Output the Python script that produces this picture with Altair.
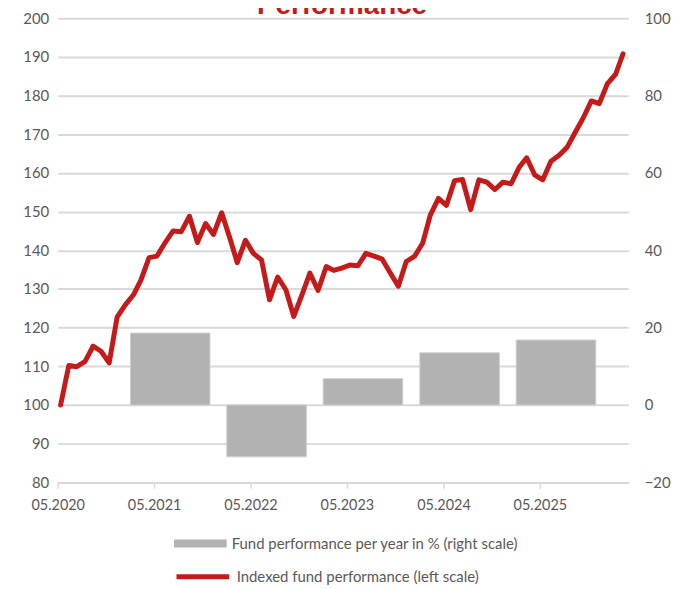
import altair as alt
import pandas as pd

# ---- data ----
TITLE = "Performance"
LINE_LABEL = "Indexed fund performance (left scale)"
BAR_LABEL = "Fund performance per year in % (right scale)"

line_start = "2020-05-01"          # first monthly observation (May 2020)
line_values = [
    100.0, 110.2, 109.9, 111.2, 115.2, 113.9, 110.9, 122.7, 125.9, 128.5,
    132.3, 138.1, 138.5, 142.0, 145.0, 144.8, 148.8, 142.0, 146.9, 144.1,
    149.7, 143.1, 136.8, 142.6, 139.2, 137.5, 127.2, 133.1, 129.8, 122.9,
    128.5, 134.1, 129.6, 135.8, 134.8, 135.4, 136.2, 136.0, 139.2, 138.5,
    137.7, 134.2, 130.7, 137.1, 138.4, 141.8, 149.1, 153.4, 151.6, 158.0,
    158.3, 150.5, 158.2, 157.6, 155.7, 157.6, 157.2, 161.5, 163.9, 159.4,
    158.2, 163.0, 164.5, 166.6, 170.5, 174.2, 178.6, 177.9, 183.1, 185.5,
    190.8,
]

bar_years = [2021, 2022, 2023, 2024, 2025]
bar_values = [18.6, -13.4, 6.8, 13.5, 16.8]

tick_years = [2020, 2021, 2022, 2023, 2024, 2025]

# ---- tables ----
line_dates = pd.date_range(line_start, periods=len(line_values), freq="MS") + pd.Timedelta(days=11)
line_df = pd.DataFrame({"date": line_dates, "value": line_values, "series": LINE_LABEL})
bar_df = pd.DataFrame({
    "date": [pd.Timestamp(year=y, month=7, day=1) for y in bar_years],
    "value": bar_values,
    "series": BAR_LABEL,
})
title_df = pd.DataFrame({"t": [TITLE]})

FONT = "Lato"
GREY_TXT = "#595959"
RED = "#c41a1a"

x_domain = [alt.DateTime(year=2020, month=5, date=1), alt.DateTime(year=2026, month=4, date=1)]
x_scale = alt.Scale(domain=x_domain, padding=0)
x_axis = alt.Axis(
    title=None,
    values=[alt.DateTime(year=y, month=5, date=1) for y in tick_years],
    format="%m.%Y",
    grid=False,
    labelFlush=False,
    labelOverlap=False,
    domainColor="#d9d9d9",
    domainWidth=2,
    tickColor="#d9d9d9",
    tickWidth=1.5,
    tickSize=6,
    labelPadding=10,
    labelFontSize=14.5,
    labelColor=GREY_TXT,
    labelFont=FONT,
)

bars = alt.Chart(bar_df).mark_bar(size=80, stroke="#cfcfcf", strokeWidth=1).encode(
    x=alt.X("date:T", scale=x_scale, axis=x_axis),
    y=alt.Y(
        "value:Q",
        scale=alt.Scale(domain=[-20, 100], nice=False, zero=False),
        axis=alt.Axis(
            orient="right", title=None, values=[-20, 0, 20, 40, 60, 80, 100],
            grid=False, domain=False, ticks=False, labelPadding=16,
            labelFontSize=15, labelColor=GREY_TXT, labelFont=FONT,
        ),
    ),
    fill=alt.Fill(
        "series:N",
        scale=alt.Scale(domain=[BAR_LABEL], range=["#b2b2b2"]),
        legend=alt.Legend(
            orient="none", legendX=117, legendY=502, title=None, padding=0,
            symbolType="M-1,-0.15H1V0.15H-1Z", symbolSize=2809, symbolStrokeWidth=0,
            labelOffset=5, labelLimit=0, labelFontSize=15, labelColor=GREY_TXT,
            labelFont=FONT,
        ),
    ),
)

line = alt.Chart(line_df).mark_line(strokeWidth=5, strokeCap="round", strokeJoin="round").encode(
    x=alt.X("date:T", scale=x_scale, axis=x_axis),
    y=alt.Y(
        "value:Q",
        scale=alt.Scale(domain=[80, 200], nice=False, zero=False),
        axis=alt.Axis(
            orient="left", title=None, values=list(range(80, 201, 10)),
            grid=True, gridColor="#d9d9d9", gridWidth=2,
            domain=False, ticks=False, labelPadding=9,
            labelFontSize=15, labelColor=GREY_TXT, labelFont=FONT,
        ),
    ),
    stroke=alt.Stroke(
        "series:N",
        scale=alt.Scale(domain=[LINE_LABEL], range=[RED]),
        legend=alt.Legend(
            orient="none", legendX=117, legendY=533, title=None, padding=0,
            symbolType="stroke", symbolSize=2809, symbolStrokeWidth=5,
            labelOffset=5, labelLimit=0, labelFontSize=15, labelColor=GREY_TXT,
            labelFont=FONT,
        ),
    ),
)

title = alt.Chart(title_df).mark_text(
    font="Liberation Sans", fontSize=28, fontWeight="bold", color=RED,
    align="center", baseline="alphabetic",
).encode(text="t:N", x=alt.value(286), y=alt.value(-4.5))

chart = (
    alt.layer(bars, line, title)
    .resolve_scale(y="independent", fill="independent", stroke="independent")
    .properties(
        width=574, height=467,
        autosize=alt.AutoSizeParams(type="none"),
        padding={"left": 50, "top": 8.5, "right": 55, "bottom": 101.5},
        background="white",
    )
    .configure_view(stroke=None)
)

chart.save("out.html", embed_options={"renderer": "svg", "actions": False})
